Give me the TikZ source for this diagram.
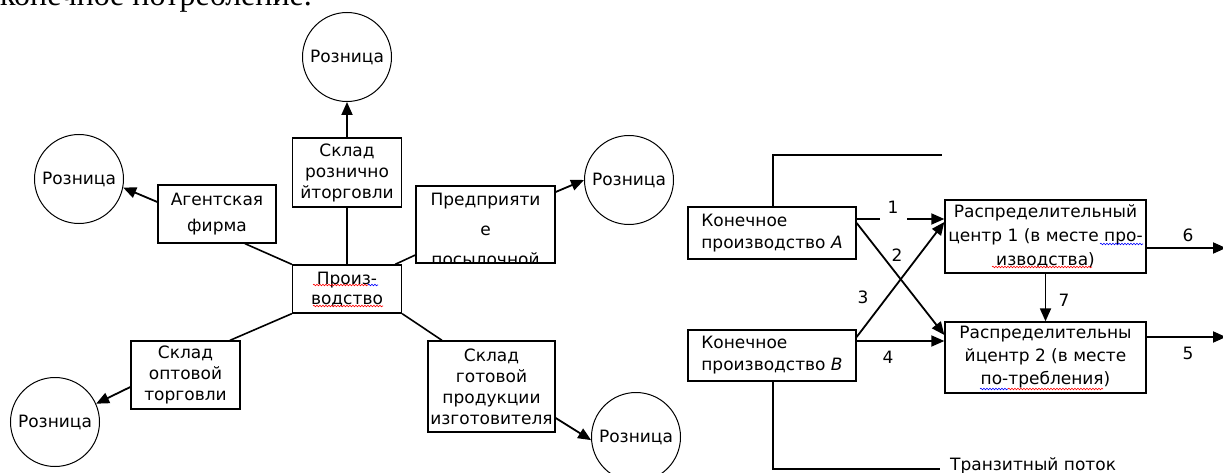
\documentclass[tikz,border=0pt]{standalone}
\usepackage{fontspec}
\setmainfont{DejaVu Sans}
\newfontfamily\serifbody{Liberation Serif}
\usetikzlibrary{arrows.meta,decorations.pathmorphing}
\newcommand\fs{\fontsize{17}{21}\selectfont}
\begin{document}
\begin{tikzpicture}[x=1pt,y=-1pt,
  box/.style={draw, line width=1.3pt, inner sep=0pt, align=center, font=\fs},
  circ/.style={draw, circle, line width=1pt, minimum size=89pt, inner sep=0pt, font=\fs},
  ln/.style={line width=1.6pt},
  arr/.style={line width=1.8pt, -{Triangle[length=13pt,width=11pt]}},
  lbl/.style={font=\fs, inner sep=1pt},
  redwave/.style={red, line width=0.6pt, decorate, decoration={snake, amplitude=0.8pt, segment length=3pt}},
  bluewave/.style={blue, line width=0.6pt, decorate, decoration={snake, amplitude=0.8pt, segment length=3pt}}]
\useasboundingbox (0,0) rectangle (1223,473);
\clip (0,0) rectangle (1223,473);
\fill[white] (0,0) rectangle (1223,473);

% top cut text
\node[anchor=base west, font=\serifbody\fontsize{32}{36}\selectfont, inner sep=0pt] (toptext) at (0,6) {конечное потребление.};

% ---------- left diagram ----------
\node[circ] (Ct) at (347,57) {Розница};
\node[circ] (Cl) at (79,179) {Розница};
\node[circ] (Cr) at (629,180) {Розница};
\node[circ] (Cbl) at (55,422) {Розница};
\node[circ] (Cbr) at (636,437) {Розница};

\node[box, minimum width=109pt, minimum height=69pt] (SR) at (347,172.5) {Склад\\рознично\\йторговли};
\node[box, minimum width=118pt, minimum height=58pt, font=\fontsize{17}{26}\selectfont] (Ag) at (217,214) {Агентская\\фирма};
\node[box, minimum width=109pt, minimum height=48pt, font=\fontsize{17}{20}\selectfont] (P) at (347,289) {Произ-\\водство};
\node[box, minimum width=139pt, minimum height=77pt] (SP) at (485.5,224.5) {};
\begin{scope}
  \clip (SP.south west) rectangle (SP.north east);
  \node[align=center, font=\fontsize{17}{30}\selectfont, inner sep=0pt] (SPtext) at (485.5,229) {Предприяти\\е\\посылочной};
\end{scope}
\node[box, minimum width=109pt, minimum height=68pt] (SO) at (185.5,375) {Склад\\оптовой\\торговли};
\node[box, minimum width=127pt, minimum height=91pt] (SG) at (491.5,386.5) {Склад\\готовой\\продукции\\изготовителя};

\draw[ln] (SR.south) -- (P.north);
\draw[ln] ([xshift=28pt]Ag.south) -- (P.north west);
\draw[ln] ([yshift=-30.5pt]SP.west) -- ([xshift=-7pt]P.north east);
\draw[ln] (P.south west) -- ([xshift=44.5pt]SO.north);
\draw[ln] (P.south east) -- ([xshift=-49.5pt]SG.north);

\draw[arr] (SR.north) -- (Ct.south);
\draw[arr] ([yshift=12pt]Ag.west) -- (Cl.-11);
\draw[arr] ([yshift=32.5pt]SP.east) -- (Cr.west);
\draw[arr] ([yshift=-12pt]SO.west) -- (Cbl.24);
\draw[arr] ([yshift=-31.5pt]SG.east) -- (Cbr.184);

% spell-check squiggles
\draw[redwave] (313,285) -- (368,285);
\draw[bluewave] (368,285) -- (378,285);
\draw[redwave] (313,306) -- (383,306);

% ---------- right diagram ----------
\node[box, minimum width=168pt, minimum height=52pt, align=left, font=\fontsize{17}{22}\selectfont] (A) at (772,233) {Конечное\\производство \textit{A}};
\node[box, minimum width=168pt, minimum height=51pt, align=left, font=\fontsize{17}{22}\selectfont] (B) at (772,355.5) {Конечное\\производство \textit{B}};
\node[box, minimum width=201pt, minimum height=73pt, font=\fontsize{17}{24}\selectfont] (RC1) at (1045.5,236.5) {Распределительный\\центр 1 (в месте про-\\изводства)};
\node[box, minimum width=201pt, minimum height=71pt, font=\fontsize{17}{23}\selectfont] (RC2) at (1045.5,357.5) {Распределительны\\йцентр 2 (в месте\\по-требления)};

\coordinate (T1) at (942,155);
\coordinate (T2) at (940,469);
\coordinate (E6) at (1226,248);
\coordinate (E5) at (1226,337);
\draw[ln] ([xshift=1pt]A.north) |- (T1);
\draw[ln] ([xshift=1pt]B.south) |- (T2);
\node[anchor=base west, font=\fs, inner sep=0pt] (Tr) at (950,470) {Транзитный поток};

\draw[arr] ([yshift=14pt]A.east) -- ([yshift=14pt]A.east -| RC1.west);
\draw[arr] ([yshift=10pt]A.east) -- ([yshift=22.5pt]RC2.west);
\draw[arr] ([yshift=18.5pt]B.east) -- ([yshift=14.5pt]RC1.west);
\draw[arr] ([yshift=14.5pt]B.east) -- ([yshift=14.5pt]B.east -| RC2.west);
\draw[arr] (RC1.south) -- (RC2.north);
\draw[arr] ([yshift=-11.5pt]RC1.east) -- (E6);
\draw[arr] ([yshift=20.5pt]RC2.east) -- (E5);

\node[lbl, fill=white, minimum width=27pt, minimum height=28pt] (l1) at (893,207) {1};
\node[lbl] (l2) at (897,255) {2};
\node[lbl] (l3) at (863,297) {3};
\node[lbl] (l4) at (888,357) {4};
\node[lbl] (l5) at (1188,353) {5};
\node[lbl] (l6) at (1188,235) {6};
\node[lbl] (l7) at (1064,300) {7};

\draw[bluewave] (1100,244) -- (1143,244);
\draw[redwave] (992,267) -- (1092,267);
\draw[bluewave] (980,389) -- (1008,389);
\draw[redwave] (1008,389) -- (1103,389);
\end{tikzpicture}
\end{document}
